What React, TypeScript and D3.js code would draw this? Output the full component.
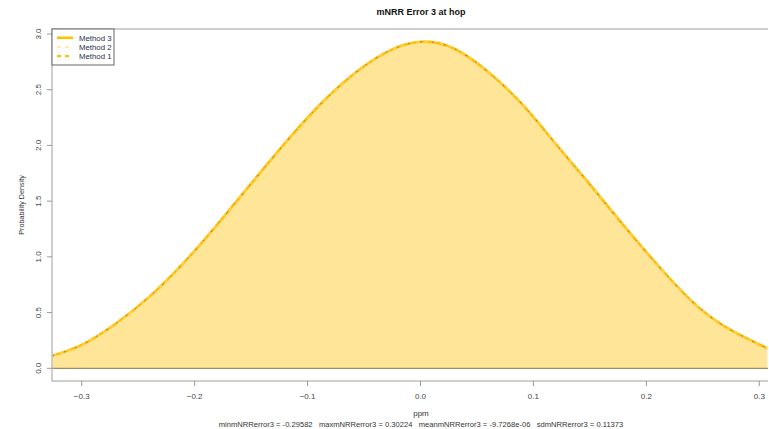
import React, { useEffect, useRef } from 'react';
import * as d3 from 'd3';

// density estimate (ppm -> density)
const ppm = [-0.326, -0.30, -0.27, -0.24, -0.21, -0.18, -0.15, -0.12, -0.09, -0.06, -0.03, 0.0,
    0.03, 0.06, 0.09, 0.12, 0.15, 0.18, 0.21, 0.24, 0.27, 0.307];
const density = [0.113, 0.21, 0.40, 0.643, 0.943, 1.29, 1.657, 2.02, 2.356, 2.634, 2.838, 2.93,
    2.868, 2.659, 2.37, 2.011, 1.65, 1.28, 0.927, 0.605, 0.372, 0.18];

const xTicks = [-0.3, -0.2, -0.1, 0.0, 0.1, 0.2, 0.3];
const yTicks = [0, 0.5, 1, 1.5, 2, 2.5, 3];
const methods = ["Method 3", "Method 2", "Method 1"];
const footer = "minmNRRerror3 = -0.29582   maxmNRRerror3 = 0.30224   meanmNRRerror3 = -9.7268e-06   sdmNRRerror3 = 0.11373";

const FONT = "'Liberation Sans', Arial, sans-serif";

function App() {
    const ref = useRef(null);

    useEffect(() => {
        const svg = d3.select(ref.current);
        svg.selectAll("*").remove();

        const width = 769, height = 429;
        const left = 52, right = 768, top = 29, bottom = 381;

        const x = d3.scaleLinear().domain([-0.3, 0.3]).range([81.7, 759.3]);
        const y = d3.scaleLinear().domain([0, 3]).range([368.3, 34]);
        const pts = ppm.map((p, i) => [p, density[i]]);

        svg.append("rect").attr("width", width).attr("height", height).attr("fill", "white");

        svg.append("defs").append("clipPath").attr("id", "plotclip")
            .append("rect").attr("x", left).attr("y", top).attr("width", right - left).attr("height", bottom - top);

        const plot = svg.append("g").attr("clip-path", "url(#plotclip)");

        const area = d3.area()
            .x(d => x(d[0]))
            .y0(y(0))
            .y1(d => y(d[1]))
            .curve(d3.curveNatural);
        const line = d3.line()
            .x(d => x(d[0]))
            .y(d => y(d[1]))
            .curve(d3.curveNatural);

        plot.append("path").datum(pts).attr("d", area).attr("fill", "#FFE597");

        plot.append("line")
            .attr("x1", left).attr("x2", right)
            .attr("y1", y(0)).attr("y2", y(0))
            .attr("stroke", "#9c8c62").attr("stroke-width", 1.3);

        // Method 3 solid, Method 2 dashed light, Method 1 dashed
        plot.append("path").datum(pts).attr("d", line)
            .attr("fill", "none").attr("stroke", "#FFC000").attr("stroke-width", 2.6);
        plot.append("path").datum(pts).attr("d", line)
            .attr("fill", "none").attr("stroke", "#FFD36B").attr("stroke-width", 1.2)
            .attr("stroke-dasharray", "4,4");
        plot.append("path").datum(pts).attr("d", line)
            .attr("fill", "none").attr("stroke", "#7a6a4a").attr("stroke-width", 0.8)
            .attr("stroke-dasharray", "2,10");

        // box (left, top, bottom)
        svg.append("path")
            .attr("d", `M${right},${top}H${left}V${bottom}H${right}`)
            .attr("fill", "none").attr("stroke", "#bfbfbf").attr("stroke-width", 1.5);

        const tickStyle = g => g.attr("font-family", FONT)
            .attr("font-size", 8).attr("fill", "#444");

        // x axis ticks
        const xg = svg.append("g").call(tickStyle);
        xTicks.forEach(t => {
            xg.append("line").attr("x1", x(t)).attr("x2", x(t)).attr("y1", bottom).attr("y2", bottom + 5)
                .attr("stroke", "#999").attr("stroke-width", 1);
            xg.append("text").attr("x", x(t)).attr("y", 399).attr("text-anchor", "middle")
                .text(d3.format(".1f")(t));
        });

        // y axis ticks
        const yg = svg.append("g").call(tickStyle);
        yTicks.forEach(t => {
            yg.append("line").attr("x1", left - 5).attr("x2", left).attr("y1", y(t)).attr("y2", y(t))
                .attr("stroke", "#999").attr("stroke-width", 1);
            yg.append("text")
                .attr("transform", `translate(41,${y(t)}) rotate(-90)`)
                .attr("text-anchor", "middle")
                .text(d3.format(".1f")(t));
        });

        svg.append("text")
            .attr("transform", `translate(24,${(top + bottom) / 2}) rotate(-90)`)
            .attr("text-anchor", "middle")
            .attr("font-family", FONT)
            .attr("font-size", 7.2).attr("fill", "#333")
            .text("Probability Density");

        svg.append("text")
            .attr("x", 421).attr("y", 15).attr("text-anchor", "middle")
            .attr("font-family", FONT)
            .attr("font-size", 9).attr("font-weight", "bold").attr("fill", "#111")
            .text("mNRR Error 3 at hop");

        svg.append("text")
            .attr("x", 421).attr("y", 416).attr("text-anchor", "middle")
            .attr("font-family", FONT)
            .attr("font-size", 8).attr("fill", "#333")
            .text("ppm");

        svg.append("text")
            .attr("x", 421).attr("y", 426.5).attr("text-anchor", "middle")
            .attr("font-family", FONT)
            .attr("font-size", 7.6).attr("fill", "#333")
            .attr("xml:space", "preserve")
            .style("white-space", "pre")
            .text(footer);

        // legend
        const lg = svg.append("g");
        lg.append("rect").attr("x", left).attr("y", top).attr("width", 62).attr("height", 36)
            .attr("fill", "white").attr("stroke", "#666").attr("stroke-width", 1);
        const legendStyles = [
            { color: "#FFC000", width: 2.6, dash: null },
            { color: "#FFD36B", width: 1.2, dash: "4,4" },
            { color: "#FFC000", width: 2.2, dash: "4,4" },
        ];
        methods.forEach((m, i) => {
            const yy = 37.8 + i * 9.2;
            const s = legendStyles[i];
            const l = lg.append("line").attr("x1", 57).attr("x2", 73).attr("y1", yy).attr("y2", yy)
                .attr("stroke", s.color).attr("stroke-width", s.width);
            if (s.dash) l.attr("stroke-dasharray", s.dash);
            lg.append("text").attr("x", 79).attr("y", yy + 3)
                .attr("font-family", FONT)
                .attr("font-size", 7.8).attr("fill", "#1f2d4f")
                .text(m);
        });
    }, []);

    return (
        <svg
            ref={ref}
            width={769}
            height={429}
            style={{ position: "fixed", left: 0, top: 0, display: "block" }}
        />
    );
}

export default App;
